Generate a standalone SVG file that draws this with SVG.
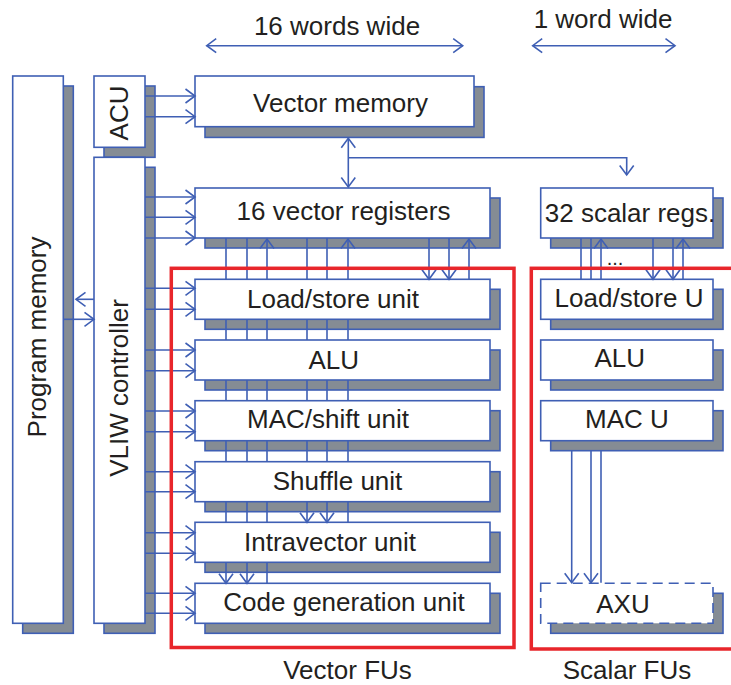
<svg xmlns="http://www.w3.org/2000/svg" width="731" height="685" viewBox="0 0 731 685">
<style>
.b{fill:#ffffff;stroke:#3f5fb4;stroke-width:1.6}
.d{fill:#ffffff;stroke:#3f5fb4;stroke-width:1.6;stroke-dasharray:10 6}
.s{fill:#858c94;stroke:#3f5fb4;stroke-width:1.6}
.l{fill:none;stroke:#3f5fb4;stroke-width:1.6}
.a{marker-end:url(#ah)}
.aa{marker-start:url(#ah);marker-end:url(#ah)}
.t{font-family:"Liberation Sans",Arial,sans-serif;font-size:26px;fill:#231f20;text-anchor:middle}
.r{fill:none;stroke:#e8262b;stroke-width:3.5}
</style>
<defs>
<marker id="ah" markerUnits="userSpaceOnUse" viewBox="0 0 10 16" refX="10" refY="8" markerWidth="10" markerHeight="16" orient="auto-start-reverse" overflow="visible">
<path d="M0.5,1 L10,8 L0.5,15" fill="none" stroke="#3f5fb4" stroke-width="1.6"/>
</marker>
</defs>

<g id="dims">
<text class="t" x="337" y="35">16 words wide</text>
<text class="t" x="603" y="28">1 word wide</text>
</g>

<g id="program-memory">
<rect class="s" x="22.7" y="86" width="50.6" height="547.3"/>
<rect class="b" x="12.7" y="76" width="50.6" height="547.3"/>
<text class="t" transform="translate(46,337) rotate(-90)">Program memory</text>
</g>

<g id="acu">
<rect class="s" x="104" y="86" width="51" height="71.3"/>
<rect class="b" x="94" y="76" width="51" height="71.3"/>
<text class="t" transform="translate(128.3,113) rotate(-90)">ACU</text>
</g>

<g id="vliw-controller">
<rect class="s" x="104" y="167.3" width="51" height="466"/>
<rect class="b" x="94" y="157.3" width="51" height="466"/>
<text class="t" transform="translate(128.3,388) rotate(-90)">VLIW controller</text>
</g>

<g id="vector-memory">
<rect class="s" x="205" y="86.7" width="279" height="50.7"/>
<rect class="b" x="195" y="76" width="279" height="50.7"/>
<text class="t" x="340.5" y="111.7">Vector memory</text>
</g>

<g id="vector-registers">
<rect class="s" x="205" y="198" width="295" height="50"/>
<rect class="b" x="195" y="188" width="295" height="50"/>
<text class="t" x="343.5" y="220">16 vector registers</text>
</g>

<g id="scalar-registers">
<rect class="s" x="550.7" y="198" width="172.3" height="50"/>
<rect class="b" x="540.7" y="188" width="172.3" height="50"/>
<text class="t" x="630" y="221.7">32 scalar regs.</text>
</g>

<g id="v-loadstore">
<rect class="s" x="205" y="289.3" width="295" height="40"/>
<rect class="b" x="195" y="279.3" width="295" height="40"/>
<text class="t" x="333" y="308.3">Load/store unit</text>
</g>
<g id="v-alu">
<rect class="s" x="205" y="350" width="295" height="40"/>
<rect class="b" x="195" y="340" width="295" height="40"/>
<text class="t" x="333.7" y="369">ALU</text>
</g>
<g id="v-mac">
<rect class="s" x="205" y="410.7" width="295" height="40"/>
<rect class="b" x="195" y="400.7" width="295" height="40"/>
<text class="t" x="328" y="428.3">MAC/shift unit</text>
</g>
<g id="v-shuffle">
<rect class="s" x="205" y="471.7" width="295" height="40"/>
<rect class="b" x="195" y="461.7" width="295" height="40"/>
<text class="t" x="337.5" y="490">Shuffle unit</text>
</g>
<g id="v-intravector">
<rect class="s" x="205" y="532.3" width="295" height="40"/>
<rect class="b" x="195" y="522.3" width="295" height="40"/>
<text class="t" x="330" y="550.5">Intravector unit</text>
</g>
<g id="v-codegen">
<rect class="s" x="205" y="593.3" width="295" height="40"/>
<rect class="b" x="195" y="583.3" width="295" height="40"/>
<text class="t" x="344" y="610.5">Code generation unit</text>
</g>

<g id="s-loadstore">
<rect class="s" x="550.7" y="289.3" width="172.3" height="40"/>
<rect class="b" x="540.7" y="279.3" width="172.3" height="40"/>
<text class="t" x="629" y="306.7">Load/store U</text>
</g>
<g id="s-alu">
<rect class="s" x="550.7" y="350" width="172.3" height="40"/>
<rect class="b" x="540.7" y="340" width="172.3" height="40"/>
<text class="t" x="619.7" y="366.7">ALU</text>
</g>
<g id="s-mac">
<rect class="s" x="550.7" y="410.7" width="172.3" height="40"/>
<rect class="b" x="540.7" y="400.7" width="172.3" height="40"/>
<text class="t" x="627" y="428">MAC U</text>
</g>
<g id="s-axu">
<rect class="s" x="550.7" y="593.3" width="172.3" height="40"/>
<rect class="d" x="540.7" y="583.3" width="172.3" height="40"/>
<text class="t" x="623" y="613">AXU</text>
</g>

<g id="connectors">
<path class="l aa" d="M206.7,45.7 H462.7"/>
<path class="l aa" d="M532.7,45.7 H675"/>
<path class="l a" d="M145,96 H195"/>
<path class="l a" d="M145,116.7 H195"/>
<path class="l a" d="M145,197 H195"/>
<path class="l a" d="M145,217.3 H195"/>
<path class="l a" d="M145,238 H195"/>
<path class="l a" d="M145,288.3 H195"/>
<path class="l a" d="M145,309.3 H195"/>
<path class="l a" d="M145,350 H195"/>
<path class="l a" d="M145,370.7 H195"/>
<path class="l a" d="M145,411 H195"/>
<path class="l a" d="M145,431.7 H195"/>
<path class="l a" d="M145,471.7 H195"/>
<path class="l a" d="M145,491.7 H195"/>
<path class="l a" d="M145,532.7 H195"/>
<path class="l a" d="M145,553.3 H195"/>
<path class="l a" d="M145,593.3 H195"/>
<path class="l a" d="M145,613.3 H195"/>
<path class="l a" d="M94,299.3 H76"/>
<path class="l a" d="M63.3,319.3 H94"/>
<path class="l aa" d="M348.3,138.3 V187"/>
<path class="l a" d="M348.3,157.7 H626.7 V175"/>
<path class="l" d="M226,238 V279.3 M247,238 V279.3 M307,238 V279.3 M327,238 V279.3"/>
<path class="l a" d="M267,279.3 V239"/>
<path class="l a" d="M348,279.3 V239"/>
<path class="l a" d="M429,238 V279.3"/>
<path class="l a" d="M449,238 V279.3"/>
<path class="l a" d="M469,279.3 V239"/>
<path class="l" d="M226,319.3 V340 M247,319.3 V340 M267,319.3 V340 M307,319.3 V340 M327,319.3 V340 M348,319.3 V340"/>
<path class="l" d="M226,380 V400.7 M247,380 V400.7 M267,380 V400.7 M307,380 V400.7 M327,380 V400.7 M348,380 V400.7"/>
<path class="l" d="M226,440.7 V461.7 M247,440.7 V461.7 M267,440.7 V461.7 M307,440.7 V461.7 M327,440.7 V461.7 M348,440.7 V461.7"/>
<path class="l" d="M226,501.7 V522.3 M247,501.7 V522.3 M267,501.7 V522.3 M348,501.7 V522.3"/>
<path class="l a" d="M307,501.7 V522.3"/>
<path class="l a" d="M327,501.7 V522.3"/>
<path class="l a" d="M226,562.3 V583.3"/>
<path class="l a" d="M247,562.3 V583.3"/>
<path class="l" d="M267,562.3 V583.3"/>
<path class="l" d="M581,238 V279.3 M591,238 V279.3"/>
<path class="l a" d="M601,279.3 V239"/>
<path class="l a" d="M653,238 V279.3"/>
<path class="l a" d="M673,238 V279.3"/>
<path class="l a" d="M683,279.3 V239"/>
<path class="l a" d="M571.7,451 V582.7"/>
<path class="l a" d="M591,451 V582.7"/>
<path class="l" d="M601,451 V582.7"/>
</g>

<g id="frames">
<rect class="r" x="171.3" y="268.3" width="342.7" height="379.2"/>
<rect class="r" x="531.3" y="268.3" width="215" height="380.7"/>
<text class="t" x="615" y="265" style="font-size:20px">...</text>
<text class="t" x="347.5" y="679">Vector FUs</text>
<text class="t" x="627" y="679">Scalar FUs</text>
</g>
</svg>
